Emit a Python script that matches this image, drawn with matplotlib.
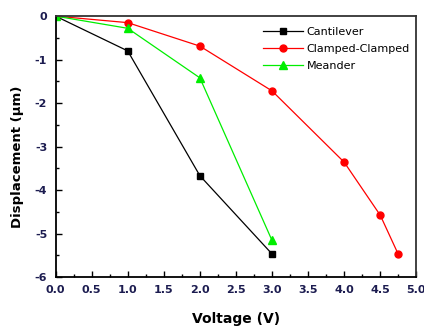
import matplotlib.pyplot as plt
from matplotlib.ticker import MultipleLocator

# data
v_cant = [0, 1, 2, 3]
d_cant = [0, -0.80, -3.67, -5.47]
v_cc = [0, 1, 2, 3, 4, 4.5, 4.75]
d_cc = [0, -0.15, -0.69, -1.72, -3.36, -4.58, -5.48]
v_mea = [0, 1, 2, 3]
d_mea = [0, -0.28, -1.42, -5.16]

plt.rcParams['font.family'] = ['DejaVu Sans']

fig = plt.figure(figsize=(4.24, 3.29), dpi=100)
ax = fig.add_axes([0.131, 0.158, 0.851, 0.793])

ax.plot(v_cant, d_cant, color='black', marker='s', ms=5, lw=0.9, label='Cantilever')
ax.plot(v_cc, d_cc, color='red', marker='o', ms=5, lw=0.9, label='Clamped-Clamped')
ax.plot(v_mea, d_mea, color='#00ee00', marker='^', ms=5.5, lw=0.9, label='Meander')

ax.set_xlim(0, 5)
ax.set_ylim(-6, 0)
ax.xaxis.set_major_locator(MultipleLocator(0.5))
ax.xaxis.set_minor_locator(MultipleLocator(0.25))
ax.yaxis.set_major_locator(MultipleLocator(1))
ax.yaxis.set_minor_locator(MultipleLocator(0.5))
ax.xaxis.set_major_formatter(plt.FormatStrFormatter('%.1f'))
ax.yaxis.set_major_formatter(plt.FormatStrFormatter('%d'))
ax.tick_params(which='both', direction='in', top=False, right=False,
               labelsize=8, labelcolor='#1c1c50', width=1.0, pad=6)
ax.tick_params(which='major', length=4)
ax.tick_params(which='minor', length=2.5)
for lab in ax.get_xticklabels() + ax.get_yticklabels():
    lab.set_fontweight('bold')
for s in ax.spines.values():
    s.set_linewidth(1.3)
ax.spines['top'].set_color('#333333')
ax.spines['right'].set_color('#333333')

ax.set_xlabel('Voltage (V)', fontsize=10, fontweight='bold', labelpad=12)
ax.set_ylabel('Displacement (\u03bcm)', fontsize=9.5, fontweight='bold')
ax.yaxis.set_label_coords(-0.088, 0.46)

ax.legend(loc='upper right', frameon=False, fontsize=8, handlelength=3.6,
          handletextpad=0.3, labelspacing=0.65, borderaxespad=0.2,
          bbox_to_anchor=(1.0, 0.985))

fig.savefig('out.png', dpi=100)
